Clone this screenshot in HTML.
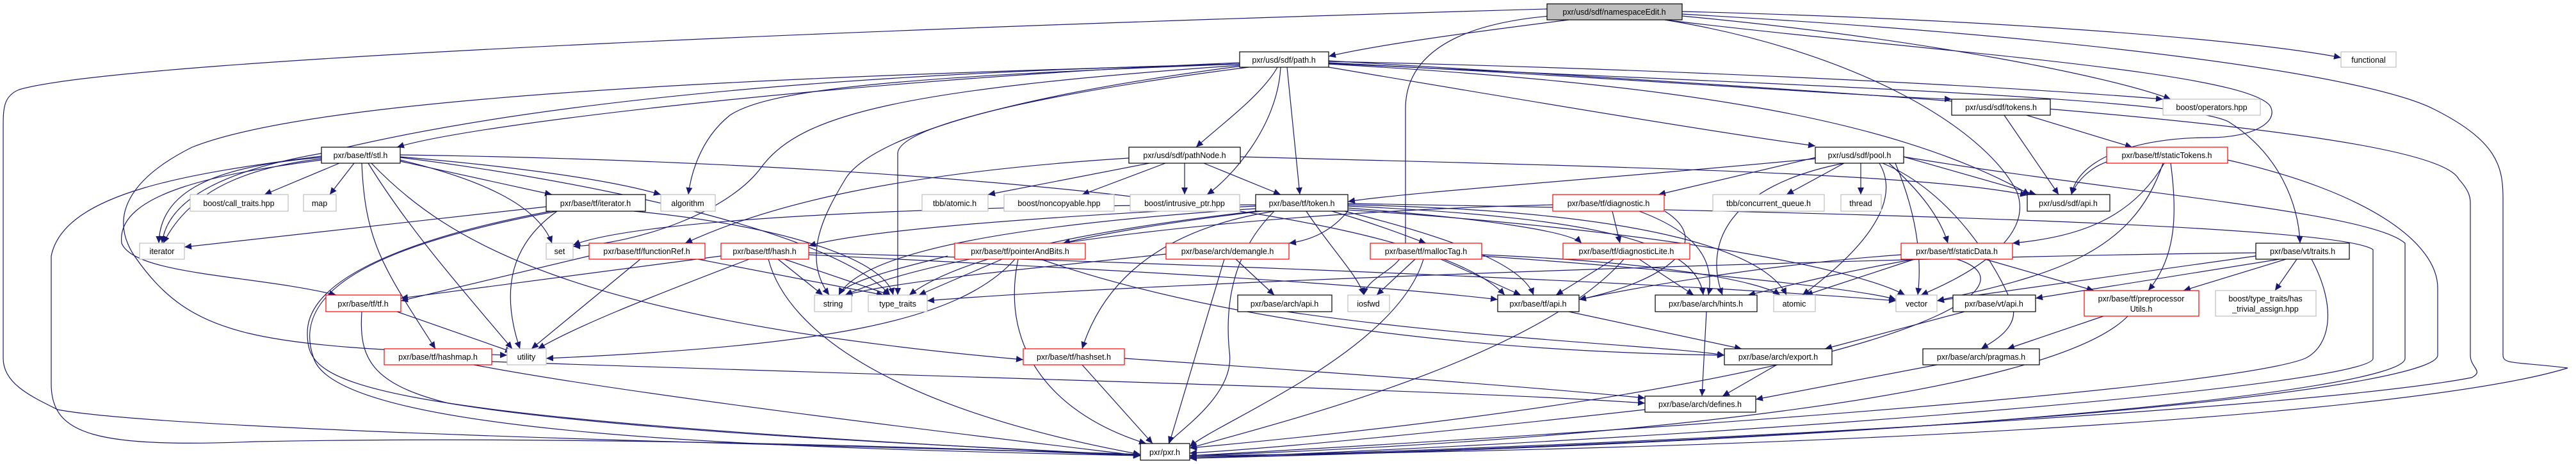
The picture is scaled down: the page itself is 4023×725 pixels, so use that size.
<!DOCTYPE html>
<html><head><meta charset="utf-8"><style>
html,body{margin:0;padding:0;background:#fff;}
svg{display:block;}
text{font-family:"Liberation Sans",sans-serif;font-size:12.5px;fill:#000;text-anchor:middle;}
.e{fill:none;stroke:#191970;stroke-width:1.2;marker-end:url(#a);}
.b{fill:#fff;stroke:#000;stroke-width:1.2;}
.r{fill:#fff;stroke:#ff0000;stroke-width:1.2;}
.g{fill:#fff;stroke:#bfbfbf;stroke-width:1.2;}
</style></head><body>
<svg width="4023" height="725" viewBox="0 0 4023 725" xmlns="http://www.w3.org/2000/svg">
<defs><marker id="a" markerUnits="userSpaceOnUse" markerWidth="12" markerHeight="10" refX="11" refY="5" orient="auto"><polygon points="0,0 11,5 0,10" fill="#191970"/></marker></defs>
<g>
<path class="e" d="M2450,31 C2300,50 2150,70 2075,88"/>
<path class="e" d="M2627,18 C3100,30 3500,60 3656,90"/>
<path class="e" d="M2627,25 C3000,60 3300,120 3390,155"/>
<path class="e" d="M2420,25 C2250,40 2195,100 2195,170 L2195,380 C2195,420 2135,430 2130,461"/>
<path class="e" d="M2600,31 C3000,80 3500,110 3545,165 C3560,190 3520,215 3450,215 C3330,215 3245,250 3235,304"/>
<path class="e" d="M2416,14 C1500,40 200,90 30,140 C5,150 5,170 5,200 L5,560 C5,600 50,620 90,640 C300,680 1700,705 1781,710"/>
<path class="e" d="M2627,22 C3300,60 3700,120 3800,170 C3900,220 3909,260 3909,310 L3909,555 C3909,570 3930,565 4010,575 C3800,640 3000,700 1858,712"/>
<path class="e" d="M2600,31 C2900,80 3100,200 3150,300 C3180,380 3050,440 3000,461"/>
<path class="e" d="M2075,95 C3000,150 3800,200 3840,280 C3858,300 3858,310 3858,320 L3858,555 C3858,575 3880,580 3860,590 C3600,640 2500,700 1858,714"/>
<path class="e" d="M3479,250 C3700,300 3807,380 3807,450 L3807,555 C3807,600 3200,680 1858,716"/>
<path class="e" d="M2973,245 C3300,300 3700,330 3756,380 L3756,560 C3756,610 3000,690 1858,716"/>
<path class="e" d="M2105,318 C2800,330 3650,350 3706,390 L3706,560 C3706,600 2800,680 1858,716"/>
<path class="e" d="M1936,98 C1400,120 750,190 620,230"/>
<path class="e" d="M1995,105 C1970,150 1900,200 1868,230"/>
<path class="e" d="M2000,105 C1995,200 1920,280 1885,304"/>
<path class="e" d="M2010,105 L2030,304"/>
<path class="e" d="M2075,105 C2400,160 2700,210 2835,228"/>
<path class="e" d="M2075,98 C2500,120 2900,150 3048,155"/>
<path class="e" d="M2075,96 C2700,110 3200,140 3378,155"/>
<path class="e" d="M2075,100 C2600,130 2950,180 3170,304"/>
<path class="e" d="M2075,99 C2700,130 3400,150 3480,190 C3560,240 3590,320 3592,380"/>
<path class="e" d="M1936,100 C1400,120 1200,140 1140,180 C1090,220 1078,280 1075,304"/>
<path class="e" d="M1936,102 C1400,140 1250,180 1190,260 C1140,330 1000,380 895,385"/>
<path class="e" d="M1936,100 C1500,110 900,140 500,240 C330,270 260,320 253,380"/>
<path class="e" d="M1950,105 C1600,150 1402,200 1402,240 L1402,461"/>
<path class="e" d="M1936,100 C1200,120 500,150 300,230 C200,280 170,340 210,400 C300,530 400,540 792,555"/>
<path class="e" d="M1940,103 C1500,160 1350,230 1320,280 C1290,330 1250,400 1295,461"/>
<path class="e" d="M530,255 L413,304"/>
<path class="e" d="M553,255 L515,304"/>
<path class="e" d="M502,248 C400,260 300,290 255,380"/>
<path class="e" d="M502,246 C330,260 250,300 248,380"/>
<path class="e" d="M502,250 C350,270 180,300 190,380 C210,430 400,430 525,461"/>
<path class="e" d="M575,255 C640,360 720,450 800,545"/>
<path class="e" d="M565,255 C570,380 600,420 680,545"/>
<path class="e" d="M625,252 L862,304"/>
<path class="e" d="M625,250 C750,280 840,320 862,380"/>
<path class="e" d="M625,245 C800,260 950,280 1032,304"/>
<path class="e" d="M625,246 C900,280 1300,360 1390,461"/>
<path class="e" d="M502,244 C300,270 100,300 80,400 L80,600 C80,680 150,700 400,690 C900,680 1500,700 1781,712"/>
<path class="e" d="M580,255 C700,380 900,500 1598,562"/>
<path class="e" d="M625,242 C1200,250 2200,300 2350,461"/>
<path class="e" d="M853,323 L288,386"/>
<path class="e" d="M870,330 C800,380 780,450 812,545"/>
<path class="e" d="M860,330 C700,360 480,420 480,520 C480,600 520,650 1781,712"/>
<path class="e" d="M870,330 C600,380 450,450 490,560 C530,680 1200,700 1781,712"/>
<path class="e" d="M990,330 C1200,350 1380,400 1395,461"/>
<path class="e" d="M1795,255 L1543,304"/>
<path class="e" d="M1820,255 L1690,304"/>
<path class="e" d="M1850,255 L1850,304"/>
<path class="e" d="M1880,255 L2000,304"/>
<path class="e" d="M1763,247 C1400,270 1200,320 1070,380"/>
<path class="e" d="M1937,245 C2500,260 3000,270 3166,305"/>
<path class="e" d="M1961,326 C1600,350 1350,390 1310,461"/>
<path class="e" d="M2040,330 C2080,390 2120,430 2130,461"/>
<path class="e" d="M1961,322 C1600,340 1350,360 1263,384"/>
<path class="e" d="M1970,330 C1800,350 1700,370 1660,380"/>
<path class="e" d="M2105,330 C2080,360 2050,375 2013,380"/>
<path class="e" d="M2080,330 C2150,350 2200,370 2227,380"/>
<path class="e" d="M2105,325 C2300,340 2450,360 2470,380"/>
<path class="e" d="M2100,330 C2300,380 2380,420 2395,461"/>
<path class="e" d="M2105,322 C2500,340 2650,380 2660,461"/>
<path class="e" d="M2105,320 C2600,330 2760,400 2790,461"/>
<path class="e" d="M2105,328 C2600,360 2900,420 2975,461"/>
<path class="e" d="M1990,330 C1800,360 1720,450 1690,545"/>
<path class="e" d="M1990,330 C1940,380 1910,450 1920,550 C1930,620 1830,680 1825,693"/>
<path class="e" d="M1961,330 C1700,360 1500,400 1420,461"/>
<path class="e" d="M1961,320 C1500,320 1000,340 895,383"/>
<path class="e" d="M1215,405 L1285,461"/>
<path class="e" d="M1225,405 L1390,461"/>
<path class="e" d="M1170,405 C1000,470 900,510 840,545"/>
<path class="e" d="M1126,400 L626,466"/>
<path class="e" d="M1200,405 C1230,520 1400,640 1781,710"/>
<path class="e" d="M1263,395 C1800,410 2600,440 2961,470"/>
<path class="e" d="M1263,398 C1700,420 2100,440 2339,468"/>
<path class="e" d="M1000,405 L830,545"/>
<path class="e" d="M1090,405 L1380,461"/>
<path class="e" d="M920,400 L626,470"/>
<path class="e" d="M1565,405 L1435,461"/>
<path class="e" d="M1480,400 C1400,420 1320,440 1310,461"/>
<path class="e" d="M1585,405 C1500,500 1300,540 853,560"/>
<path class="e" d="M1590,405 C1560,550 1650,650 1790,693"/>
<path class="e" d="M1625,405 C1900,500 2300,550 2693,555"/>
<path class="e" d="M1930,405 L1990,461"/>
<path class="e" d="M1821,397 C1600,420 1400,440 1320,461"/>
<path class="e" d="M1912,405 L1826,693"/>
<path class="e" d="M2210,405 L2150,461"/>
<path class="e" d="M2250,405 L2375,461"/>
<path class="e" d="M2223,405 C2180,550 1900,660 1858,698"/>
<path class="e" d="M2314,398 C2600,410 2750,440 2780,461"/>
<path class="e" d="M2314,400 C2600,420 2900,450 2961,468"/>
<path class="e" d="M2518,330 L2530,380"/>
<path class="e" d="M2560,330 C2640,360 2680,400 2668,461"/>
<path class="e" d="M2600,330 C2680,380 2600,440 2466,468"/>
<path class="e" d="M2425,320 C2000,330 1500,380 1320,461"/>
<path class="e" d="M2520,405 L2430,461"/>
<path class="e" d="M2560,405 L2645,461"/>
<path class="e" d="M2536,405 C2400,560 2000,660 1858,700"/>
<path class="e" d="M2840,245 L2590,304"/>
<path class="e" d="M2880,255 L2790,304"/>
<path class="e" d="M2906,255 L2906,304"/>
<path class="e" d="M2973,245 L3180,304"/>
<path class="e" d="M2935,255 C2980,330 2870,420 2815,461"/>
<path class="e" d="M2880,255 C2700,290 2660,380 2690,461"/>
<path class="e" d="M2950,255 C3000,300 3030,340 3042,380"/>
<path class="e" d="M2835,248 C2500,280 2200,300 2105,315"/>
<path class="e" d="M2940,255 C3050,300 3120,420 3140,470 C3160,510 3110,535 3094,545"/>
<path class="e" d="M2960,255 C3000,350 3000,420 2995,461"/>
<path class="e" d="M3130,180 L3215,304"/>
<path class="e" d="M3165,180 L3330,230"/>
<path class="e" d="M3300,250 C3260,260 3240,290 3235,304"/>
<path class="e" d="M3380,255 C3330,340 3250,370 3143,380"/>
<path class="e" d="M3390,255 C3400,330 3400,400 3355,454"/>
<path class="e" d="M3378,255 C3330,400 3200,430 3025,470"/>
<path class="e" d="M2969,398 C2800,410 2600,440 2466,468"/>
<path class="e" d="M3100,405 L3270,454"/>
<path class="e" d="M2990,405 L2820,461"/>
<path class="e" d="M2990,405 C2850,430 2780,450 2730,461"/>
<path class="e" d="M3056,405 C3200,450 2950,600 1858,700"/>
<path class="e" d="M3560,405 L3179,466"/>
<path class="e" d="M3570,405 L3410,454"/>
<path class="e" d="M3587,405 L3553,454"/>
<path class="e" d="M3523,395 C3000,400 1800,440 1448,470"/>
<path class="e" d="M3523,400 L3025,470"/>
<path class="e" d="M3610,405 C3650,480 3640,540 3600,560 C3500,600 2800,660 1858,712"/>
<path class="e" d="M620,487 L800,550"/>
<path class="e" d="M565,487 C560,560 580,600 700,630 C1000,680 1600,700 1781,712"/>
<path class="e" d="M2010,487 C2300,530 2600,540 2693,555"/>
<path class="e" d="M2450,487 L2720,545"/>
<path class="e" d="M2665,487 L2658,619"/>
<path class="e" d="M3068,487 L2850,545"/>
<path class="e" d="M3285,494 L3135,545"/>
<path class="e" d="M3323,494 C3200,620 2500,690 1858,712"/>
<path class="e" d="M3025,570 L2742,624"/>
<path class="e" d="M2775,570 L2690,619"/>
<path class="e" d="M740,570 C1000,620 1600,690 1781,712"/>
<path class="e" d="M768,565 C1500,590 2300,610 2569,630"/>
<path class="e" d="M1690,570 L1800,693"/>
<path class="e" d="M1756,560 C2200,590 2450,610 2569,622"/>
<path class="e" d="M2569,640 C2300,670 2000,700 1858,708"/>
</g>
<g>
<rect x="2416" y="6" width="211" height="25" fill="#bfbfbf" stroke="#000" stroke-width="1.2"/><text x="2521" y="23">pxr/usd/sdf/namespaceEdit.h</text>
<rect class="b" x="1936" y="81" width="139" height="24"/><text x="2005" y="98">pxr/usd/sdf/path.h</text>
<rect class="g" x="3656" y="81" width="86" height="24"/><text x="3699" y="98">functional</text>
<rect class="b" x="3048" y="155" width="154" height="25"/><text x="3125" y="172">pxr/usd/sdf/tokens.h</text>
<rect class="g" x="3378" y="155" width="152" height="25"/><text x="3454" y="172">boost/operators.hpp</text>
<rect class="b" x="502" y="230" width="123" height="25"/><text x="563" y="247">pxr/base/tf/stl.h</text>
<rect class="b" x="1763" y="230" width="174" height="25"/><text x="1850" y="247">pxr/usd/sdf/pathNode.h</text>
<rect class="b" x="2835" y="230" width="138" height="25"/><text x="2904" y="247">pxr/usd/sdf/pool.h</text>
<rect class="r" x="3290" y="230" width="189" height="25"/><text x="3384" y="247">pxr/base/tf/staticTokens.h</text>
<rect class="g" x="297" y="304" width="153" height="26"/><text x="373" y="322">boost/call_traits.hpp</text>
<rect class="g" x="474" y="304" width="51" height="26"/><text x="499" y="322">map</text>
<rect class="b" x="853" y="304" width="155" height="26"/><text x="930" y="322">pxr/base/tf/iterator.h</text>
<rect class="g" x="1032" y="304" width="85" height="26"/><text x="1074" y="322">algorithm</text>
<rect class="g" x="1440" y="304" width="103" height="26"/><text x="1491" y="322">tbb/atomic.h</text>
<rect class="g" x="1568" y="304" width="172" height="26"/><text x="1654" y="322">boost/noncopyable.hpp</text>
<rect class="g" x="1765" y="304" width="171" height="26"/><text x="1850" y="322">boost/intrusive_ptr.hpp</text>
<rect class="b" x="1961" y="304" width="144" height="26"/><text x="2033" y="322">pxr/base/tf/token.h</text>
<rect class="r" x="2425" y="304" width="174" height="26"/><text x="2512" y="322">pxr/base/tf/diagnostic.h</text>
<rect class="g" x="2675" y="304" width="174" height="26"/><text x="2762" y="322">tbb/concurrent_queue.h</text>
<rect class="g" x="2875" y="304" width="63" height="26"/><text x="2906" y="322">thread</text>
<rect class="b" x="3166" y="304" width="129" height="26"/><text x="3230" y="322">pxr/usd/sdf/api.h</text>
<rect class="g" x="218" y="380" width="70" height="25"/><text x="253" y="397">iterator</text>
<rect class="g" x="853" y="380" width="42" height="25"/><text x="874" y="397">set</text>
<rect class="r" x="920" y="380" width="181" height="25"/><text x="1010" y="397">pxr/base/tf/functionRef.h</text>
<rect class="r" x="1126" y="380" width="137" height="25"/><text x="1194" y="397">pxr/base/tf/hash.h</text>
<rect class="r" x="1491" y="380" width="204" height="25"/><text x="1593" y="397">pxr/base/tf/pointerAndBits.h</text>
<rect class="r" x="1821" y="380" width="192" height="25"/><text x="1917" y="397">pxr/base/arch/demangle.h</text>
<rect class="r" x="2140" y="380" width="174" height="25"/><text x="2227" y="397">pxr/base/tf/mallocTag.h</text>
<rect class="r" x="2441" y="380" width="198" height="25"/><text x="2540" y="397">pxr/base/tf/diagnosticLite.h</text>
<rect class="r" x="2969" y="380" width="174" height="25"/><text x="3056" y="397">pxr/base/tf/staticData.h</text>
<rect class="b" x="3523" y="380" width="146" height="25"/><text x="3596" y="397">pxr/base/vt/traits.h</text>
<rect class="r" x="509" y="461" width="117" height="26"/><text x="567" y="479">pxr/base/tf/tf.h</text>
<rect class="g" x="1272" y="461" width="58" height="26"/><text x="1301" y="479">string</text>
<rect class="g" x="1356" y="461" width="92" height="26"/><text x="1402" y="479">type_traits</text>
<rect class="b" x="1933" y="461" width="147" height="26"/><text x="2006" y="479">pxr/base/arch/api.h</text>
<rect class="g" x="2105" y="461" width="65" height="26"/><text x="2137" y="479">iosfwd</text>
<rect class="b" x="2339" y="461" width="127" height="26"/><text x="2402" y="479">pxr/base/tf/api.h</text>
<rect class="b" x="2585" y="461" width="159" height="26"/><text x="2664" y="479">pxr/base/arch/hints.h</text>
<rect class="g" x="2770" y="461" width="65" height="26"/><text x="2802" y="479">atomic</text>
<rect class="g" x="2961" y="461" width="64" height="26"/><text x="2993" y="479">vector</text>
<rect class="b" x="3050" y="461" width="129" height="26"/><text x="3114" y="479">pxr/base/vt/api.h</text>
<rect class="r" x="3255" y="454" width="179" height="40"/><text x="3344" y="471">pxr/base/tf/preprocessor</text><text x="3344" y="487">Utils.h</text>
<rect class="g" x="3460" y="454" width="157" height="40"/><text x="3538" y="471">boost/type_traits/has</text><text x="3538" y="487">_trivial_assign.hpp</text>
<rect class="r" x="600" y="545" width="168" height="25"/><text x="684" y="562">pxr/base/tf/hashmap.h</text>
<rect class="g" x="792" y="545" width="61" height="25"/><text x="822" y="562">utility</text>
<rect class="r" x="1598" y="545" width="158" height="25"/><text x="1677" y="562">pxr/base/tf/hashset.h</text>
<rect class="b" x="2693" y="545" width="168" height="25"/><text x="2777" y="562">pxr/base/arch/export.h</text>
<rect class="b" x="3003" y="545" width="182" height="25"/><text x="3094" y="562">pxr/base/arch/pragmas.h</text>
<rect class="b" x="2569" y="619" width="173" height="25"/><text x="2655" y="636">pxr/base/arch/defines.h</text>
<rect class="b" x="1781" y="693" width="77" height="26"/><text x="1819" y="711">pxr/pxr.h</text>
</g>
</svg>
</body></html>
